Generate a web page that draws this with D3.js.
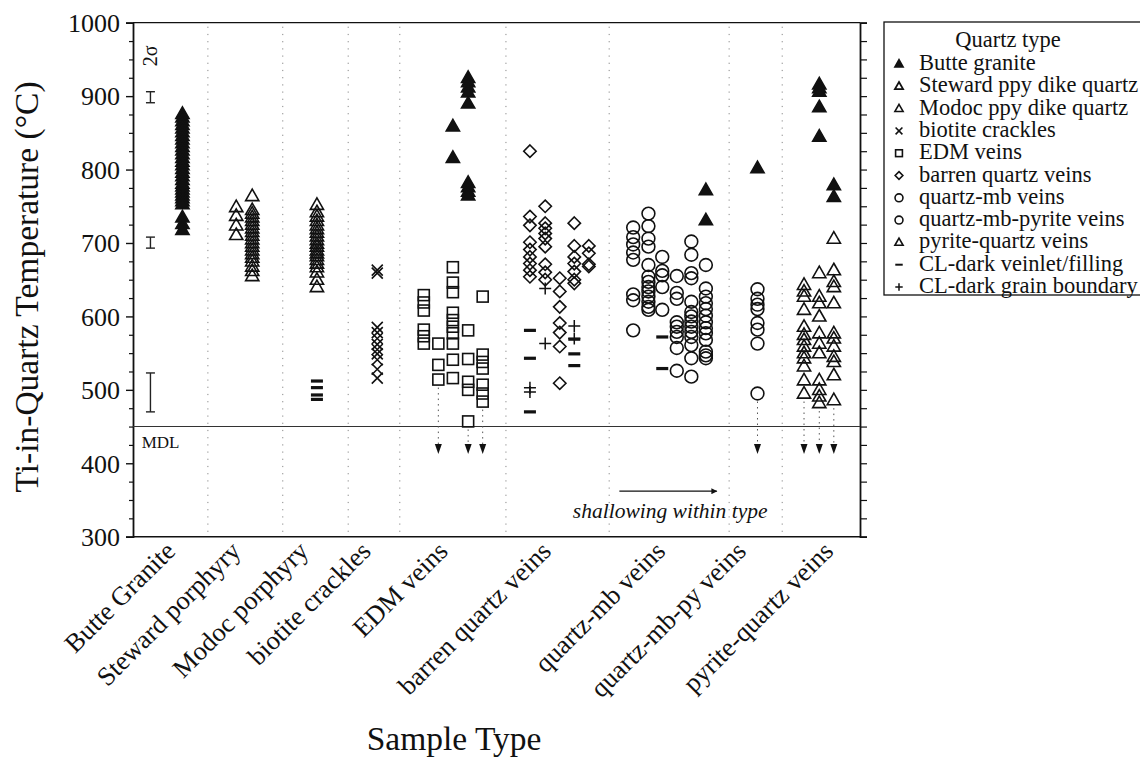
<!DOCTYPE html>
<html><head><meta charset="utf-8">
<script src="https://cdn.jsdelivr.net/npm/d3@7"></script>
<style>
body{margin:0;background:#fff}
svg{display:block}
text{font-family:"Liberation Serif","Times New Roman",serif;fill:#111}
</style>
</head><body>
<svg id="c" width="1140" height="758"></svg>
<script>
// ---------------- data ----------------
const categories = ["Butte Granite","Steward porphyry","Modoc porphyry","biotite crackles","EDM veins","barren quartz veins","quartz-mb veins","quartz-mb-py veins","pyrite-quartz veins"];
const categoryTickX = [5.4, 14.4, 23.7, 32.3, 42.9, 57.1, 72.8, 83.9, 95.9];
const separatorX = [10.3, 20.6, 29.6, 36.7, 51.3, 65.5, 82.0, 89.3];
const sampleX = {BG:6.8, ST1:14.2, ST2:16.4, MO:25.3, BC:33.6,
  EDM1:40.0, EDM2:42.0, EDM3:44.0, EDM4:46.1, EDM5:48.1,
  BQ1:54.6, BQ2:56.7, BQ3:58.7, BQ4:60.7, BQ5:62.7,
  QM1:68.8, QM2:70.9, QM3:72.8, QM4:74.8, QM5:76.8, QM6:78.8,
  QMP:85.9, PQ1:92.3, PQ2:94.4, PQ3:96.4};
const yTicks = [300,400,500,600,700,800,900,1000];
const mdlValue = 450;
const sigmaCenter = [898, 700, 497];
const sigmaLow = [891, 693, 470];
const sigmaHigh = [906, 708, 523];
const belowMdlSamples = ["EDM2","EDM4","EDM5","QMP","PQ1","PQ2","PQ3"];
const belowMdlArrowValue = 418;

const butteGranite = [
  ["BG",[876,871,866,861,856,851,846,841,836,831,826,821,816,811,806,801,796,791,786,781,777,773,769,765,761,757,753,735,726,718]],
  ["EDM3",[859,816]],
  ["EDM4",[925,919,912,905,890,782,776,770,765]],
  ["QM6",[772,731]],
  ["QMP",[802]],
  ["PQ2",[916,911,906,885,845]],
  ["PQ3",[779,763]]];
const stewardQuartz = [
  ["ST1",[749,737,724,711]],
  ["ST2",[764,745,740,735,730,725,720,715,710,705,700,695,690,685,680,675,668,662,655]]];
const modocQuartz = [
  ["MO",[752,742,736,730,724,719,714,709,704,699,695,690,686,682,677,672,667,660,650,640]]];
const biotiteCrackles = [
  ["BC",[663,659,585,578,570,562,555,549,541,528,516]]];
const edmVeins = [
  ["EDM1",[629,619,608,582,573,563]],
  ["EDM2",[563,534,514]],
  ["EDM3",[667,646,633,605,595,586,577,563,541,516]],
  ["EDM4",[581,542,511,500,457]],
  ["EDM5",[627,548,538,529,507,495,484]]];
const barrenVeins = [
  ["BQ1",[825,736,724,701,691,681,672,663,654]],
  ["BQ2",[750,727,720,713,706,695,671,660,650]],
  ["BQ3",[652,634,613,591,578,559,509]],
  ["BQ4",[727,696,681,672,661,650,645]],
  ["BQ5",[696,686,671,668]]];
const qmbVeins = [
  ["QM1",[721,708,698,687,677,630,622,581]],
  ["QM2",[740,723,706,695,670,654,647,640,634,627,620,613,609]],
  ["QM3",[681,662,656,640,609]],
  ["QM4",[655,632,624,592,586,579,572,557,526]],
  ["QM5",[702,684,659,652,620,606,600,593,586,579,572,561,543,518]],
  ["QM6",[670,638,627,618,610,601,592,584,577,568,552,547,543]]];
const qmbPyVeins = [
  ["QMP",[637,624,616,610,591,582,563,495]]];
const pyriteVeins = [
  ["PQ1",[643,634,627,609,586,575,568,559,550,543,532,513,495]],
  ["PQ2",[659,627,618,600,577,563,550,513,500,491,482]],
  ["PQ3",[706,663,647,640,618,577,570,559,545,538,520,486]]];
const clDarkVeinlet = [
  ["MO",[512,503,493,487]],
  ["BQ1",[581,543,470]],
  ["BQ4",[569,549,533]],
  ["QM3",[572,529]]];
const clDarkGrain = [
  ["BQ1",[503,497]],
  ["BQ2",[638,563]],
  ["BQ4",[587,570]]];

const legendLabels = ["Butte granite","Steward ppy dike quartz","Modoc ppy dike quartz","biotite crackles","EDM veins","barren quartz veins","quartz-mb veins","quartz-mb-pyrite veins","pyrite-quartz veins","CL-dark veinlet/filling","CL-dark grain boundary"];
const legendShapes = ["triFill","triBold","tri","cross","square","diamond","circle","circle","tri","dash","plus"];

// ---------------- layout ----------------
const svg = d3.select("#c");
const x = d3.scaleLinear().domain([0,100]).range([133,860]);
const y = d3.scaleLinear().domain([300,1000]).range([536.7,22.7]);
const ink = "#111";

// separators
svg.append("g").selectAll("line").data(separatorX).join("line")
  .attr("x1",d=>x(d)).attr("x2",d=>x(d)).attr("y1",y(1000)+4).attr("y2",y(300)-2)
  .attr("stroke","#888").attr("stroke-width",1).attr("stroke-dasharray","1.2,6");

// frame
svg.append("line").attr("x1",x(0)).attr("x2",x(100)).attr("y1",y(1000)).attr("y2",y(1000)).attr("stroke",ink).attr("stroke-width",1.2);
svg.append("line").attr("x1",x(0)).attr("x2",x(100)).attr("y1",y(300)).attr("y2",y(300)).attr("stroke",ink).attr("stroke-width",1.6);

// left axis
const gL = svg.append("g").attr("transform",`translate(${x(0)},0)`)
  .call(d3.axisLeft(y).tickValues(yTicks).tickSize(7).tickPadding(6).tickFormat(d3.format("d")));
gL.select(".domain").attr("stroke",ink).attr("stroke-width",1.8);
gL.selectAll(".tick line").attr("stroke",ink).attr("stroke-width",1.4);
gL.selectAll(".tick text").attr("font-size",26).attr("font-family","Liberation Serif").attr("fill",ink).attr("dy","0.34em");
const yMinor = d3.range(300,1001,25).filter(v=>v%100!==0);
const gLm = svg.append("g").attr("transform",`translate(${x(0)},0)`)
  .call(d3.axisLeft(y).tickValues(yMinor).tickSize(4).tickFormat(""));
gLm.select(".domain").remove();
gLm.selectAll(".tick line").attr("stroke",ink).attr("stroke-width",1.2);
// right axis
const gR = svg.append("g").attr("transform",`translate(${x(100)},0)`)
  .call(d3.axisRight(y).tickValues(d3.range(300,1001,25)).tickSize(7).tickFormat(""));
gR.select(".domain").attr("stroke",ink).attr("stroke-width",1.8);
gR.selectAll(".tick line").attr("stroke",ink).attr("stroke-width",1.2);

// bottom category labels
const gB = svg.append("g").attr("transform",`translate(0,${y(300)})`)
  .call(d3.axisBottom(x).tickValues(categoryTickX).tickSize(0).tickFormat((d,i)=>categories[i]));
gB.select(".domain").remove();
gB.selectAll(".tick text").attr("font-size",26.5).attr("font-family","Liberation Serif").attr("fill",ink)
  .attr("text-anchor","end").attr("dy",0).attr("y",0)
  .attr("transform","translate(4,16) rotate(-45)");

// axis titles
svg.append("text").attr("transform",`translate(38,287) rotate(-90)`).attr("text-anchor","middle")
  .attr("font-size",33.5).text("Ti-in-Quartz Temperature (°C)");
svg.append("text").attr("x",454).attr("y",750).attr("text-anchor","middle").attr("font-size",33.5).text("Sample Type");

// MDL
svg.append("line").attr("x1",x(0)).attr("x2",x(100)).attr("y1",y(mdlValue)).attr("y2",y(mdlValue)).attr("stroke","#333").attr("stroke-width",1.1);
svg.append("text").attr("x",x(1.2)).attr("y",y(mdlValue)+21).attr("font-size",17).text("MDL");

// 2 sigma bars
const sx = x(2.4);
svg.append("text").attr("transform",`translate(${sx+7},${y(955)}) rotate(-90)`).attr("text-anchor","middle").attr("font-size",20).text("2σ");
sigmaCenter.forEach((c,i)=>{
  const g = svg.append("g").attr("stroke","#222").attr("stroke-width",1.4);
  g.append("line").attr("x1",sx).attr("x2",sx).attr("y1",y(sigmaHigh[i])).attr("y2",y(sigmaLow[i]));
  g.append("line").attr("x1",sx-4.5).attr("x2",sx+4.5).attr("y1",y(sigmaHigh[i])).attr("y2",y(sigmaHigh[i]));
  g.append("line").attr("x1",sx-4.5).attr("x2",sx+4.5).attr("y1",y(sigmaLow[i])).attr("y2",y(sigmaLow[i]));
});

// shallowing annotation
const defs = svg.append("defs");
defs.append("marker").attr("id","ah").attr("viewBox","0 0 10 10").attr("refX",9).attr("refY",5)
  .attr("markerWidth",10).attr("markerHeight",6).attr("orient","auto").attr("markerUnits","userSpaceOnUse")
  .append("path").attr("d","M0,0 L10,5 L0,10 Z").attr("fill",ink);
svg.append("line").attr("x1",x(66.9)).attr("x2",x(80.3)).attr("y1",y(362)).attr("y2",y(362))
  .attr("stroke",ink).attr("stroke-width",1.3).attr("marker-end","url(#ah)");
svg.append("text").attr("x",x(60.5)).attr("y",y(325.5)).attr("font-size",21.5).attr("font-style","italic").text("shallowing within type");

// ---------------- symbols ----------------
function drawShape(g, shape, cx, cy, s){
  const sw = 1.6;
  if(shape==="triFill"||shape==="tri"||shape==="triBold"){
    const w = 6.6*s, h = 11.5*s;
    g.append("path").attr("d",`M${cx},${cy-h*0.6} L${cx+w},${cy+h*0.4} L${cx-w},${cy+h*0.4} Z`)
      .attr("fill",shape==="triFill"?ink:"none").attr("stroke",ink)
      .attr("stroke-width",shape==="triBold"?2.2*Math.max(s,0.8):sw).attr("stroke-linejoin","miter");
  } else if(shape==="square"){
    const h = 5.5*s;
    g.append("rect").attr("x",cx-h).attr("y",cy-h).attr("width",2*h).attr("height",2*h)
      .attr("fill","none").attr("stroke",ink).attr("stroke-width",sw);
  } else if(shape==="diamond"){
    const h = 6.2*s;
    g.append("path").attr("d",`M${cx},${cy-h} L${cx+h},${cy} L${cx},${cy+h} L${cx-h},${cy} Z`)
      .attr("fill","none").attr("stroke",ink).attr("stroke-width",sw);
  } else if(shape==="circle"){
    g.append("circle").attr("cx",cx).attr("cy",cy).attr("r",6.4*s)
      .attr("fill","none").attr("stroke",ink).attr("stroke-width",sw);
  } else if(shape==="cross"){
    const h = 5.5*s;
    g.append("path").attr("d",`M${cx-h},${cy-h} L${cx+h},${cy+h} M${cx-h},${cy+h} L${cx+h},${cy-h}`)
      .attr("stroke",ink).attr("stroke-width",sw);
  } else if(shape==="dash"){
    g.append("rect").attr("x",cx-6*s).attr("y",cy-1.6*s).attr("width",12*s).attr("height",3.2*s).attr("fill",ink);
  } else if(shape==="plus"){
    const h = 6*s;
    g.append("path").attr("d",`M${cx-h},${cy} L${cx+h},${cy} M${cx},${cy-h} L${cx},${cy+h}`)
      .attr("stroke",ink).attr("stroke-width",1.5);
  }
}
function flatten(series){
  const out=[];
  series.forEach(([k,vals])=>vals.forEach(v=>out.push({k,v})));
  return out;
}
const allSeries = [
  [butteGranite,"triFill"],[stewardQuartz,"tri"],[modocQuartz,"tri"],[biotiteCrackles,"cross"],
  [edmVeins,"square"],[barrenVeins,"diamond"],[qmbVeins,"circle"],[qmbPyVeins,"circle"],
  [pyriteVeins,"tri"],[clDarkVeinlet,"dash"],[clDarkGrain,"plus"]];

// below-MDL arrows
const lowest = {};
allSeries.forEach(([ser])=>flatten(ser).forEach(p=>{ if(lowest[p.k]===undefined||p.v<lowest[p.k]) lowest[p.k]=p.v; }));
const gA = svg.append("g");
belowMdlSamples.forEach(k=>{
  const cx = x(sampleX[k]);
  const top = y(lowest[k])+8, ay = y(belowMdlArrowValue);
  gA.append("line").attr("x1",cx).attr("x2",cx).attr("y1",top).attr("y2",ay-6)
    .attr("stroke","#555").attr("stroke-width",1).attr("stroke-dasharray","1.5,4");
  gA.append("path").attr("d",`M${cx-3.5},${ay-6} L${cx+3.5},${ay-6} L${cx},${ay+4} Z`).attr("fill",ink);
});

const gP = svg.append("g");
allSeries.forEach(([ser,shape])=>{
  flatten(ser).forEach(p=>drawShape(gP, shape, x(sampleX[p.k]), y(p.v), 1));
});

// ---------------- legend ----------------
const lg = svg.append("g");
lg.append("rect").attr("x",884).attr("y",22).attr("width",270).attr("height",273)
  .attr("fill","#fff").attr("stroke",ink).attr("stroke-width",1.3);
lg.append("text").attr("x",1008).attr("y",47).attr("text-anchor","middle").attr("font-size",22.5).text("Quartz type");
legendLabels.forEach((lab,i)=>{
  const yy = 70 + i*22.3;
  drawShape(lg, legendShapes[i], 899, yy-6, 0.62);
  lg.append("text").attr("x",919).attr("y",yy).attr("font-size",22.5).text(lab);
});
</script>
</body></html>
